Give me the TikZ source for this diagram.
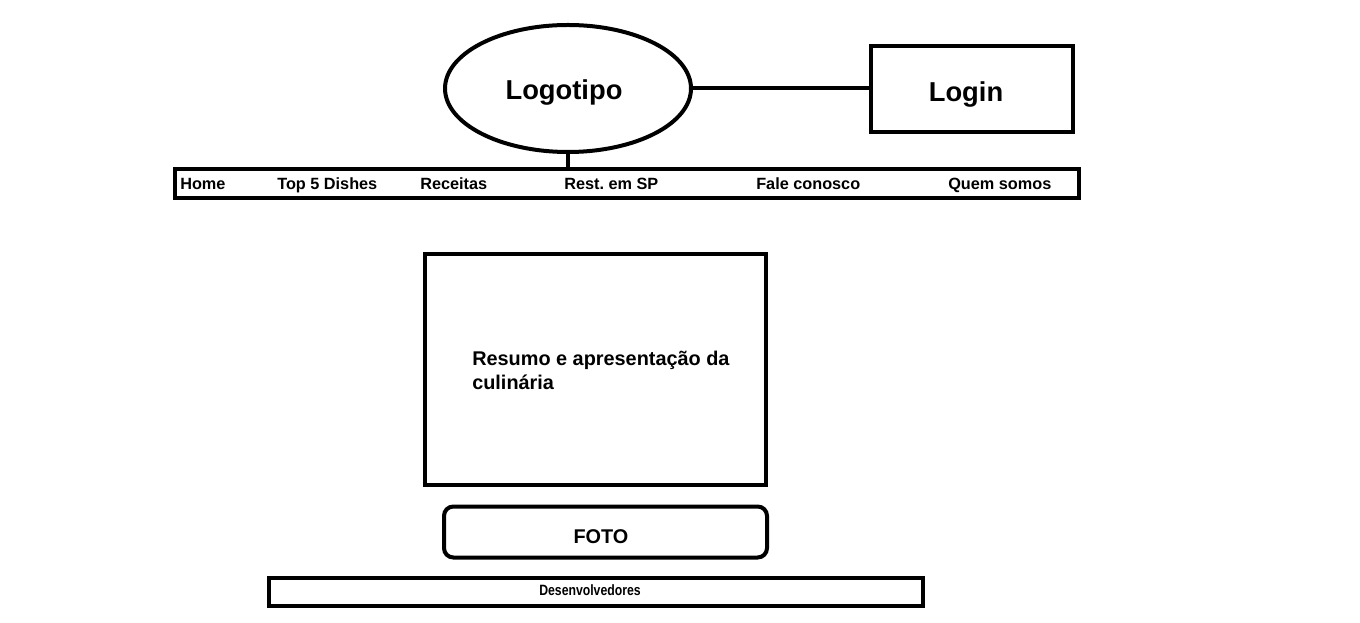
\documentclass[tikz,border=0pt]{standalone}
\usepackage{fontspec}
\setmainfont{Liberation Sans}
\usetikzlibrary{shapes.geometric}
\frenchspacing
\begin{document}
\begin{tikzpicture}[x=0.75pt,y=-0.75pt,
  box/.style={draw=black,line width=3pt,rectangle,inner sep=0pt,fill=white},
  navtxt/.style={anchor=base west,inner sep=0pt,font=\fontsize{12.2}{14}\selectfont\bfseries},
  big/.style={anchor=base,inner sep=0pt,font=\fontsize{20.5}{24}\selectfont\bfseries},
  mid/.style={font=\fontsize{14.9}{18}\selectfont\bfseries},
  conn/.style={line width=3pt}]
\useasboundingbox[fill=white] (0,0) rectangle (1360,623);
% logo and login
\node[draw,line width=3pt,ellipse,inner sep=0pt,minimum width=184.5pt,minimum height=95.25pt] (logo) at (568,88.5) {};
\node[big] (logotxt) at (564,100) {Logotipo};
\node[box,minimum width=151.5pt,minimum height=64.5pt] (login) at (972,89) {};
\node[big] (logintxt) at (966,102) {Login};
\draw[conn] (logo.east) -- (login.west |- logo.east);
% nav bar
\node[box,minimum width=678pt,minimum height=21.75pt] (nav) at (627,183.5) {};
\draw[conn] (logo.south) -- (logo.south |- nav.north);
\node[navtxt] (home) at (180,190) {Home};
\node[navtxt] (top) at (277,190) {Top 5 Dishes};
\node[navtxt] (rec) at (420,190) {Receitas};
\node[navtxt] (rest) at (564,190) {Rest. em SP};
\node[navtxt] (fale) at (756,190) {Fale conosco};
\node[navtxt] (quem) at (948,190) {Quem somos};
% main box
\node[box,minimum width=255.75pt,minimum height=173.25pt] (main) at (595.5,369.5) {};
\node[mid,anchor=north west,inner sep=0pt,align=left] (maintxt) at (472,351) {Resumo e apresentação da\\culinária};
% foto
\node[box,rounded corners=7pt,minimum width=242.25pt,minimum height=38.25pt] (foto) at (605.5,532) {};
\node[mid,anchor=base,inner sep=0pt] (fototxt) at (601,543) {FOTO};
% footer
\node[box,minimum width=490.5pt,minimum height=21pt] (foot) at (596,592) {};
\node[anchor=base,inner sep=0pt] (foottxt) at (590,595.5) {\scalebox{0.82}[1]{\fontsize{11.2}{13}\selectfont\bfseries Desenvolvedores}};
\end{tikzpicture}
\end{document}
